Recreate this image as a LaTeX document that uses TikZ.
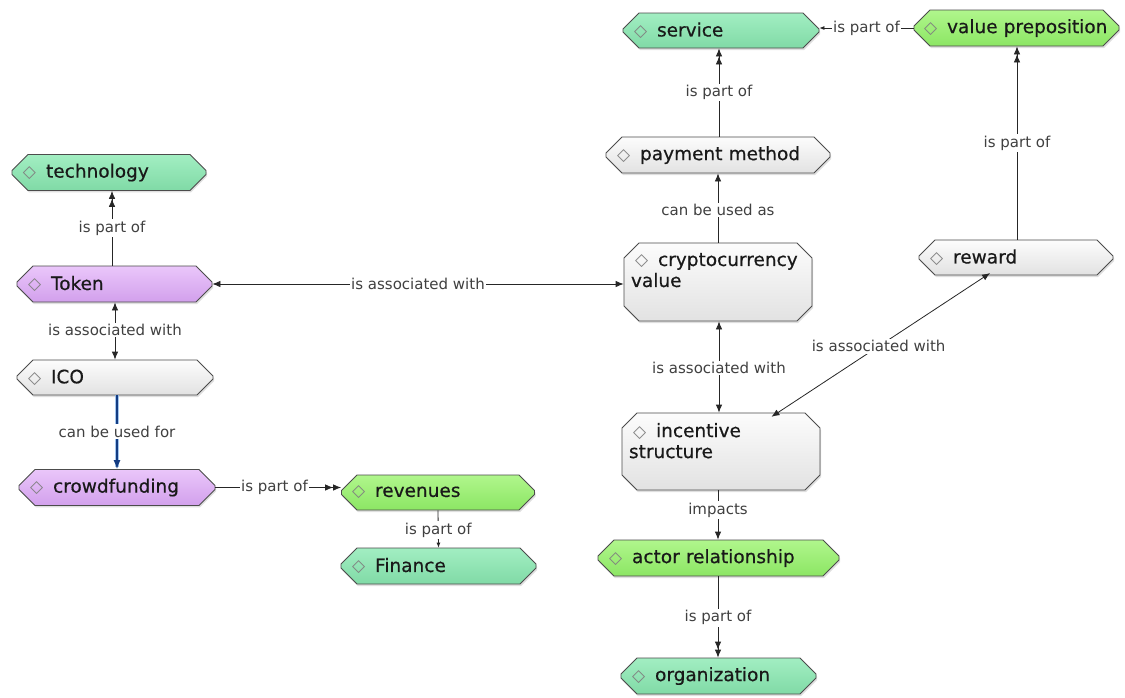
\documentclass[tikz,border=0pt]{standalone}
\usepackage{fontspec}
\setmainfont{DejaVu Sans}
\newfontfamily\heavyfont[FakeBold=0.5]{DejaVu Sans}
\usetikzlibrary{shapes.misc,arrows.meta,shadows,calc}
\newcommand\nodefont{\heavyfont\fontsize{18.5}{21}\selectfont}
\newcommand\lblfont{\fontsize{15}{17}\selectfont}
\newcommand\dmd{{\normalfont\color{black!50}\fontsize{17}{17}\selectfont ◇}\hspace{10pt}}
\definecolor{tealtop}{RGB}{162,238,194}
\definecolor{tealbot}{RGB}{128,218,166}
\definecolor{limetop}{RGB}{176,246,140}
\definecolor{limebot}{RGB}{140,230,100}
\definecolor{purptop}{RGB}{234,198,250}
\definecolor{purpbot}{RGB}{210,160,236}
\definecolor{greytop}{RGB}{252,252,252}
\definecolor{greybot}{RGB}{226,226,226}
\definecolor{selglow}{RGB}{140,185,235}
\definecolor{selline}{RGB}{20,60,130}
\tikzset{
  cbox/.style={chamfered rectangle, chamfered rectangle xsep=7pt,
    chamfered rectangle ysep=9pt, draw=black!70, line width=0.8pt,
    inner xsep=4pt, inner ysep=0pt, font=\nodefont, text=black!90,
    align=left,
    drop shadow={opacity=0.25, shadow xshift=1pt, shadow yshift=-2pt}},
  tealbox/.style={cbox, top color=tealtop, bottom color=tealbot},
  limebox/.style={cbox, top color=limetop, bottom color=limebot},
  purplebox/.style={cbox, top color=purptop, bottom color=purpbot},
  greybox/.style={cbox, top color=greytop, bottom color=greybot},
  twoline/.style={chamfered rectangle xsep=7pt, chamfered rectangle ysep=8pt,
    inner xsep=0pt, inner ysep=2pt},
  conn/.style={draw=black!85, line width=0.8pt},
  one/.style={conn, -{Latex[length=8pt,width=6.5pt]}},
  two/.style={conn, -{Latex[length=8pt,width=6.5pt]Latex[length=8pt,width=6.5pt]}},
  both/.style={conn, {Latex[length=8pt,width=6.5pt]}-{Latex[length=8pt,width=6.5pt]}},
  lbl/.style={fill=white, inner sep=1.5pt, font=\lblfont, text=black!75}
}
\begin{document}
\begin{tikzpicture}[x=1pt,y=-1pt]
\useasboundingbox (0,0) rectangle (1125,697);
\fill[white] (0,0) rectangle (1125,697);

% concept nodes
\node[tealbox, text width=172pt, minimum height=35pt] (tech) at (109,172.5) {\dmd technology};
\node[purplebox, text width=173pt, minimum height=36pt] (tok) at (114.5,284) {\dmd Token};
\node[greybox, text width=174pt, minimum height=35pt] (ico) at (115,377.5) {\dmd ICO};
\node[purplebox, text width=174pt, minimum height=35pt] (crowd) at (117,487.5) {\dmd crowdfunding};
\node[limebox, text width=172pt, minimum height=35pt] (rev) at (438,492.5) {\dmd revenues};
\node[tealbox, text width=173pt, minimum height=36pt] (fin) at (438.5,566) {\dmd Finance};
\node[tealbox, text width=174pt, minimum height=35pt] (svc) at (721,30.5) {\dmd service};
\node[limebox, inner xsep=3pt, text width=185pt, minimum height=36pt] (val) at (1016.5,28) {\mbox{\dmd value preposition}};
\node[greybox, text width=202pt, minimum height=36pt] (pay) at (718,155) {\dmd payment method};
\node[greybox, twoline] (cry) at (718,282)
  {\parbox[c][58pt][t]{174pt}{\raggedright\hspace*{4pt}\dmd cryptocurrency\\value}};
\node[greybox, text width=172pt, minimum height=35pt] (rew) at (1016,257.5) {\dmd reward};
\node[greybox, twoline] (inc) at (721,451.5)
  {\parbox[c][57pt][t]{184pt}{\raggedright\hspace*{4pt}\dmd incentive\\structure}};
\node[limebox, text width=219pt, minimum height=36pt] (act) at (718.5,558) {\dmd actor relationship};
\node[tealbox, text width=173pt, minimum height=36pt] (org) at (718.5,676) {\dmd organization};

% connectors
\draw[two] (tok.north -| 112,0) -- node[lbl, pos=0.5] {is part of} (tech.south -| 112,0);
\draw[both] (tok.south -| 115,0) -- node[lbl, pos=0.48] {is associated with} (ico.north -| 115,0);
\draw[line width=4pt, draw=selglow, opacity=0.8]
  (ico.south -| 117,0) -- ($(crowd.north -| 117,0)+(0,-2)$);
\draw[conn, line width=1.4pt, draw=selline, -{Latex[length=9pt,width=7pt]}]
  (ico.south -| 117,0) -- node[lbl, pos=0.49] {can be used for} (crowd.north -| 117,0);
\draw[two] (crowd.east) -- node[lbl, pos=0.47] {is part of} (crowd.east -| rev.west);
\draw[conn, -{Latex[length=5pt,width=4pt]}] (rev.south) -- node[lbl, pos=0.53] {is part of} (fin.north);
\draw[both] (tok.east) -- node[lbl, pos=0.5] {is associated with} (tok.east -| cry.west);
\draw[two] (pay.north -| 719,0) -- node[lbl, pos=0.5] {is part of} (svc.south -| 719,0);
\draw[one] (cry.north) -- node[lbl, pos=0.47] {can be used as} (pay.south);
\draw[conn, -{Latex[length=5pt,width=4pt]}] (val.west) -- node[lbl, pos=0.5] {is part of} (val.west -| svc.east);
\draw[two] (rew.north -| 1017,0) -- node[lbl, pos=0.5] {is part of} (val.south -| 1017,0);
\draw[both] (cry.south -| 719,0) -- node[lbl, pos=0.51] {is associated with} (inc.north -| 719,0);
\draw[both] ($(inc.north)!0.55!(inc.north east)$) -- node[lbl, pos=0.49] {is associated with} ($(rew.south)!0.29!(rew.south west)$);
\draw[one] (inc.south -| 718,0) -- node[lbl, pos=0.4] {impacts} (act.north -| 718,0);
\draw[two] (act.south -| 718,0) -- node[lbl, pos=0.51] {is part of} (org.north -| 718,0);
\end{tikzpicture}
\end{document}
